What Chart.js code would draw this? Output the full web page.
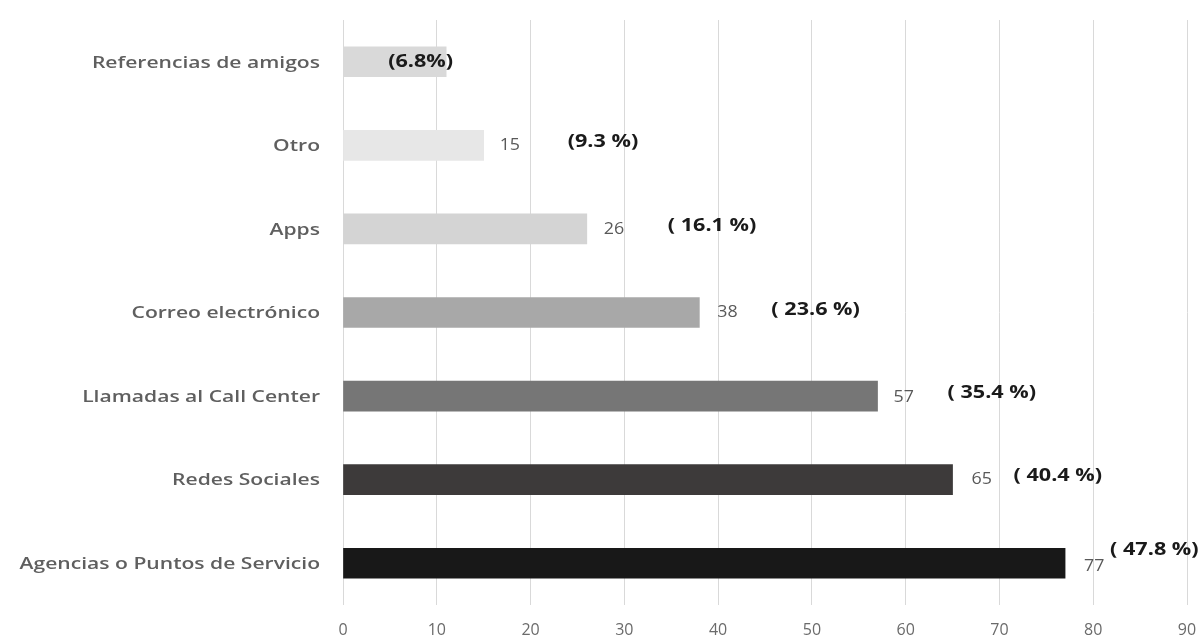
<!DOCTYPE html>
<html>
<head>
<meta charset="utf-8">
<script src="https://cdn.jsdelivr.net/npm/chart.js@4/dist/chart.umd.min.js"></script>
<style>
  html, body { margin: 0; padding: 0; background: #fff; }
  #wrap { width: 1202px; height: 641px; }
</style>
</head>
<body>
<div id="wrap"><canvas id="medios"></canvas></div>
<script>
// categorias y valores
const categorias = [
  'Referencias de amigos',
  'Otro',
  'Apps',
  'Correo electrónico',
  'Llamadas al Call Center',
  'Redes Sociales',
  'Agencias o Puntos de Servicio'
];
const cantidades = [11, 15, 26, 38, 57, 65, 77];
const porcentajes = ['(6.8%)', '(9.3 %)', '( 16.1 %)', '( 23.6 %)', '( 35.4 %)', '( 40.4 %)', '( 47.8 %)'];
const ticksX = [0, 10, 20, 30, 40, 50, 60, 70, 80, 90];

const coloresBarra = ['#d9d9d9', '#e7e7e7', '#d4d4d4', '#a8a8a8', '#767676', '#3d3a3a', '#181818'];

// desplazamiento (px) de las etiquetas respecto al final de la barra
const despValor = [null, 16, 17, 18, 16, 19, 19];
const despValorY = [0, 0, 0, 0, 1, 0, 3];
const despPct = [-58, 84, 81, 72, 70, 61, 45];
const despPctY = [0, -3, -3, -3, -3, -4, -13];

// texto estirado en horizontal, como en la imagen original
function textoAncho(ctx, txt, x, y, sx, align) {
  ctx.save();
  ctx.translate(x, y);
  ctx.scale(sx, 1);
  ctx.textAlign = align;
  ctx.fillText(txt, 0, 0);
  ctx.restore();
}

const etiquetas = {
  id: 'etiquetas',
  afterDatasetsDraw(chart) {
    const ctx = chart.ctx;
    const meta = chart.getDatasetMeta(0);
    const yScale = chart.scales.y;
    ctx.save();
    ctx.textBaseline = 'middle';

    // nombres de categoria
    ctx.font = '600 17px "Open Sans"';
    ctx.fillStyle = '#5f5f5f';
    categorias.forEach((c, i) => {
      textoAncho(ctx, c, yScale.right - 23, yScale.getPixelForValue(i) + 1, 1.24, 'right');
    });

    meta.data.forEach((bar, i) => {
      if (despValor[i] !== null) {
        ctx.font = '17px "Open Sans"';
        ctx.fillStyle = '#595959';
        textoAncho(ctx, String(cantidades[i]), bar.x + despValor[i], bar.y + despValorY[i], 1.05, 'left');
      }
      ctx.font = 'bold 18px "Open Sans"';
      ctx.fillStyle = '#1a1a1a';
      textoAncho(ctx, porcentajes[i], bar.x + despPct[i], bar.y + despPctY[i], 1.2, 'left');
    });
    ctx.restore();
  }
};

const ctx = document.getElementById('medios').getContext('2d');
new Chart(ctx, {
  type: 'bar',
  data: {
    labels: categorias,
    datasets: [{
      data: cantidades,
      backgroundColor: coloresBarra,
      borderWidth: 0,
      barThickness: 30
    }]
  },
  options: {
    indexAxis: 'y',
    responsive: true,
    maintainAspectRatio: false,
    animation: false,
    layout: { padding: { top: 20, right: 15, left: 0, bottom: 0 } },
    plugins: {
      legend: { display: false },
      tooltip: { enabled: false }
    },
    scales: {
      x: {
        min: 0,
        max: 90,
        afterBuildTicks: (s) => { s.ticks = ticksX.map(v => ({ value: v })); },
        afterFit: (s) => { s.height = 36; s.paddingRight = 0; },
        grid: { color: '#d9d9d9', lineWidth: 1, drawTicks: false },
        border: { display: false },
        ticks: {
          color: '#6b6b6b',
          font: { family: 'Open Sans', size: 16 },
          padding: 16
        }
      },
      y: {
        afterFit: (s) => { s.width = 343; s.paddingTop = 0; s.paddingBottom = 0; },
        grid: { display: false },
        border: { display: false },
        ticks: { display: false }
      }
    }
  },
  plugins: [etiquetas]
});
</script>
</body>
</html>
